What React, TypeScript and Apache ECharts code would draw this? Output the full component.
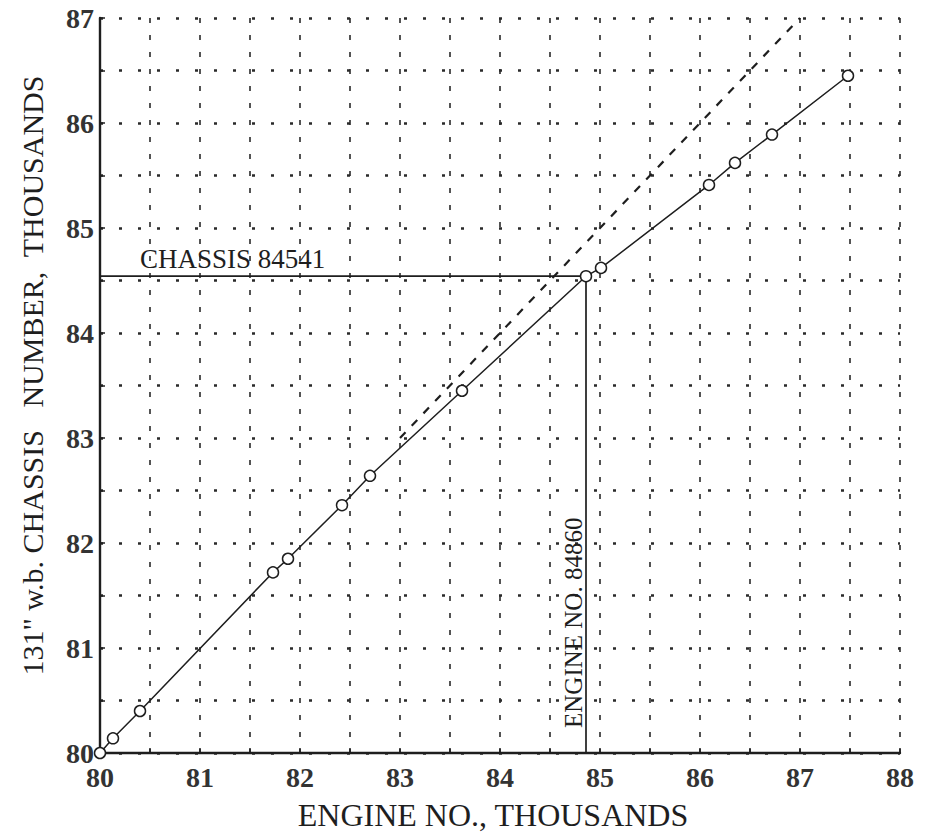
import React, { useEffect, useRef } from "react";
import * as echarts from "echarts";

// Engine number (thousands) vs 131" w.b. chassis number (thousands)
const engineK = [80.0, 80.13, 80.4, 81.73, 81.88, 82.42, 82.7, 83.62, 84.86, 85.01, 86.09, 86.35, 86.72, 87.48];
const chassisK = [80.0, 80.14, 80.4, 81.72, 81.85, 82.36, 82.64, 83.45, 84.541, 84.62, 85.41, 85.62, 85.89, 86.45];
// dashed reference line (one-to-one)
const refLineX = [83.0, 87.0];
const refLineY = [83.0, 87.0];
// highlighted reading
const engineNo = 84860;
const chassisNo = 84541;
const xTickLabels = ["80", "81", "82", "83", "84", "85", "86", "87", "88"];
const yTickLabels = ["80", "81", "82", "83", "84", "85", "86", "87"];

const FONT = "Liberation Serif";
const INK = "#1e1e1e";

export default function App() {
  const ref = useRef<HTMLDivElement>(null);
  useEffect(() => {
    const chart = echarts.init(ref.current!, undefined, { renderer: "svg" });
    const xMin = Number(xTickLabels[0]);
    const xMax = Number(xTickLabels[xTickLabels.length - 1]);
    const yMin = Number(yTickLabels[0]);
    const yMax = Number(yTickLabels[yTickLabels.length - 1]);
    const eK = engineNo / 1000;
    const cK = chassisNo / 1000;
    chart.setOption({
      animation: false,
      backgroundColor: "#ffffff",
      grid: { left: 100, right: 25, top: 18, bottom: 82 },
      xAxis: {
        type: "value",
        min: xMin,
        max: xMax,
        interval: 0.5,
        axisLine: { show: true, onZero: false, lineStyle: { color: INK, width: 2.4 } },
        axisTick: { show: true, inside: true, length: 5, lineStyle: { color: INK, width: 1.5 } },
        axisLabel: {
          margin: 10,
          fontFamily: FONT,
          fontSize: 28,
          fontWeight: "bold",
          color: "#333",
          formatter: (v: number) => (Number.isInteger(v) ? String(v) : ""),
        },
        splitLine: { show: true, lineStyle: { color: "#2a2a2a", width: 1.6, type: [5, 12] } },
      },
      yAxis: {
        type: "value",
        min: yMin,
        max: yMax,
        interval: 0.5,
        axisLine: { show: true, onZero: false, lineStyle: { color: INK, width: 2.4 } },
        axisTick: { show: true, inside: true, length: 5, lineStyle: { color: INK, width: 1.5 } },
        axisLabel: {
          margin: 6,
          fontFamily: FONT,
          fontSize: 28,
          fontWeight: "bold",
          color: "#333",
          formatter: (v: number) => (Number.isInteger(v) ? String(v) : ""),
        },
        splitLine: { show: true, lineStyle: { color: "#2a2a2a", width: 2.6, type: [3, 16] } },
      },
      series: [
        {
          type: "line",
          data: refLineX.map((x, i) => [x, refLineY[i]]),
          symbol: "none",
          lineStyle: { color: INK, width: 2.2, type: [8, 9] },
          z: 3,
        },
        {
          type: "line",
          data: [[xMin, cK], [eK, cK], [eK, yMin]],
          symbol: "none",
          lineStyle: { color: INK, width: 1.7 },
          z: 3,
        },
        {
          type: "line",
          data: engineK.map((x, i) => [x, chassisK[i]]),
          symbol: "circle",
          symbolSize: 11,
          showAllSymbol: true,
          itemStyle: { color: "#ffffff", borderColor: INK, borderWidth: 1.5 },
          lineStyle: { color: INK, width: 1.5 },
          z: 4,
        },
      ],
    });

    const [, chassisPy] = chart.convertToPixel({ gridIndex: 0 }, [xMin, cK]);
    const [enginePx, basePy] = chart.convertToPixel({ gridIndex: 0 }, [eK, yMin]);
    const [leftPx, topPy] = chart.convertToPixel({ gridIndex: 0 }, [xMin, yMax]);
    const [rightPx] = chart.convertToPixel({ gridIndex: 0 }, [xMax, yMin]);

    chart.setOption({
      graphic: [
        {
          type: "text",
          x: leftPx + 40,
          y: chassisPy - 4,
          style: {
            text: "CHASSIS " + chassisNo,
            font: `27px "${FONT}"`,
            fill: INK,
            textAlign: "left",
            textVerticalAlign: "bottom",
          },
        },
        {
          type: "text",
          x: enginePx - 13,
          y: basePy - 25,
          rotation: Math.PI / 2,
          style: {
            text: "ENGINE NO. " + engineNo,
            font: `25px "${FONT}"`,
            fill: INK,
            textAlign: "left",
            textVerticalAlign: "middle",
          },
        },
        {
          type: "text",
          x: 32,
          y: (topPy + basePy) / 2 - 10,
          rotation: Math.PI / 2,
          style: {
            text: "131\" w.b. CHASSIS   NUMBER,  THOUSANDS",
            font: `30px "${FONT}"`,
            fill: INK,
            textAlign: "center",
            textVerticalAlign: "middle",
          },
        },
        {
          type: "text",
          x: (leftPx + rightPx) / 2 - 7,
          y: 815,
          style: {
            text: "ENGINE NO., THOUSANDS",
            font: `32px "${FONT}"`,
            fill: INK,
            textAlign: "center",
            textVerticalAlign: "middle",
          },
        },
      ],
    });
    return () => chart.dispose();
  }, []);
  return (
    <div
      ref={ref}
      style={{ position: "absolute", left: 0, top: 0, width: 925, height: 835, background: "#fff" }}
    />
  );
}
